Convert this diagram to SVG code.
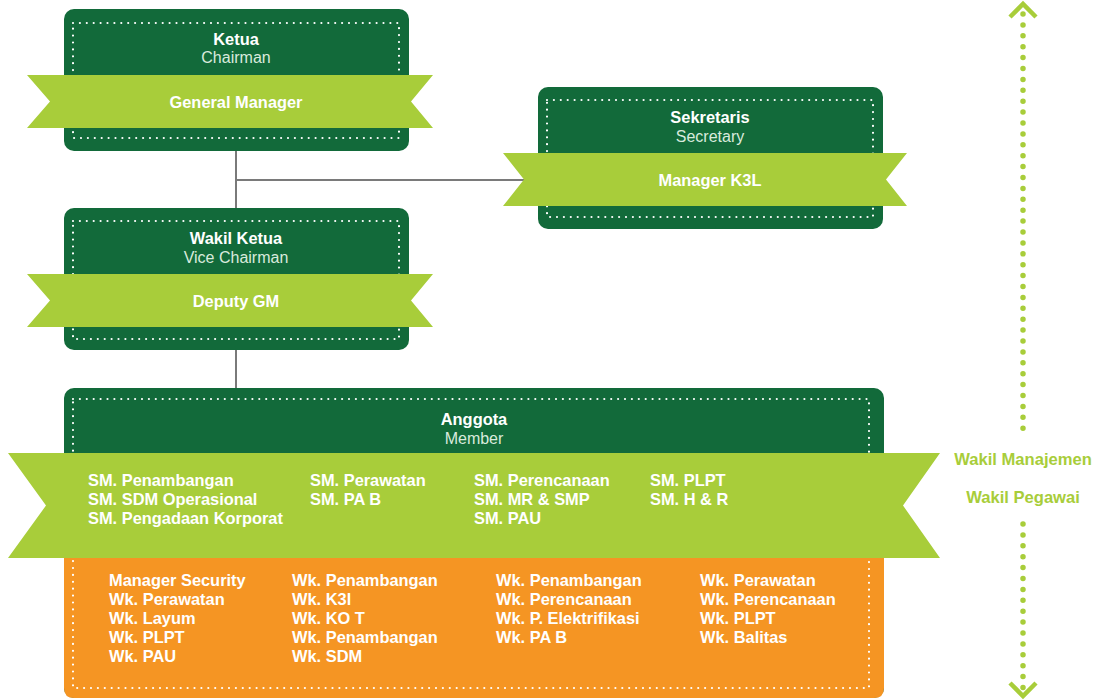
<svg xmlns="http://www.w3.org/2000/svg" width="1102" height="700" viewBox="0 0 1102 700">
<defs>
<style>
.box{fill:#126a3a}
.rib{fill:#a8cd3a}
.dots{fill:none;stroke:#ffffff;stroke-width:2.2;stroke-linecap:round;stroke-dasharray:0 6.9}
.t{font-family:"Liberation Sans",Arial,sans-serif;font-size:16.4px;font-weight:700;fill:#ffffff}
.s{font-family:"Liberation Sans",Arial,sans-serif;font-size:16px;font-weight:400;fill:#d9eadd}
.c{text-anchor:middle}
.conn{stroke:#7a7a7a;stroke-width:2;fill:none}
.lime{font-family:"Liberation Sans",Arial,sans-serif;font-size:16.6px;font-weight:700;fill:#a8cd3a;text-anchor:middle}
.vd{stroke:#a8cd3a;stroke-width:5.5;stroke-linecap:round;stroke-dasharray:0 10.9;fill:none}
.chev{stroke:#a8cd3a;stroke-width:4.5;fill:none;stroke-linejoin:miter;stroke-linecap:butt}
</style>
</defs>
<g id="connectors">
<line class="conn" x1="236" y1="150" x2="236" y2="210"/>
<line class="conn" x1="236" y1="180" x2="526" y2="180"/>
<line class="conn" x1="236" y1="349" x2="236" y2="390"/>
</g>
<g id="ketua">
<rect class="box" x="64" y="9" width="345" height="142" rx="10"/>
<rect class="dots" x="73" y="23" width="326" height="115"/>
<text class="t c" x="236" y="45">Ketua</text>
<text class="s c" x="236" y="63">Chairman</text>
<polygon class="rib" points="27,75 433,75 411,101.5 433,128 27,128 50,101.5"/>
<text class="t c" x="236" y="108">General Manager</text>
</g>
<g id="sekretaris">
<rect class="box" x="538" y="87" width="345" height="142" rx="10"/>
<rect class="dots" x="547" y="100" width="326" height="117"/>
<text class="t c" x="710" y="123">Sekretaris</text>
<text class="s c" x="710" y="142">Secretary</text>
<polygon class="rib" points="503,153 907,153 886,179.5 907,206 503,206 524,179.5"/>
<text class="t c" x="710" y="186">Manager K3L</text>
</g>
<g id="wakil-ketua">
<rect class="box" x="64" y="208" width="345" height="142" rx="10"/>
<rect class="dots" x="73" y="221" width="326" height="118"/>
<text class="t c" x="236" y="244">Wakil Ketua</text>
<text class="s c" x="236" y="263">Vice Chairman</text>
<polygon class="rib" points="27,274 433,274 411,300.5 433,327 27,327 50,300.5"/>
<text class="t c" x="236" y="307">Deputy GM</text>
</g>
<g id="anggota">
<rect class="box" x="64" y="388" width="820" height="310" rx="10"/>
<path d="M64,540 H884 V688 Q884,698 874,698 H74 Q64,698 64,688 Z" fill="#f59523"/>
<rect class="dots" x="73" y="399" width="796" height="289"/>
<text class="t c" x="474" y="425">Anggota</text>
<text class="s c" x="474" y="444">Member</text>
<polygon class="rib" points="8,453 940,453 903,505.5 940,558 8,558 46,505.5"/>
<text class="t" x="88" y="486">SM. Penambangan</text>
<text class="t" x="88" y="505">SM. SDM Operasional</text>
<text class="t" x="88" y="524">SM. Pengadaan Korporat</text>
<text class="t" x="310" y="486">SM. Perawatan</text>
<text class="t" x="310" y="505">SM. PA B</text>
<text class="t" x="474" y="486">SM. Perencanaan</text>
<text class="t" x="474" y="505">SM. MR &amp; SMP</text>
<text class="t" x="474" y="524">SM. PAU</text>
<text class="t" x="650" y="486">SM. PLPT</text>
<text class="t" x="650" y="505">SM. H &amp; R</text>
<text class="t" x="109" y="586">Manager Security</text>
<text class="t" x="109" y="605">Wk. Perawatan</text>
<text class="t" x="109" y="624">Wk. Layum</text>
<text class="t" x="109" y="643">Wk. PLPT</text>
<text class="t" x="109" y="662">Wk. PAU</text>
<text class="t" x="292" y="586">Wk. Penambangan</text>
<text class="t" x="292" y="605">Wk. K3l</text>
<text class="t" x="292" y="624">Wk. KO T</text>
<text class="t" x="292" y="643">Wk. Penambangan</text>
<text class="t" x="292" y="662">Wk. SDM</text>
<text class="t" x="496" y="586">Wk. Penambangan</text>
<text class="t" x="496" y="605">Wk. Perencanaan</text>
<text class="t" x="496" y="624">Wk. P. Elektrifikasi</text>
<text class="t" x="496" y="643">Wk. PA B</text>
<text class="t" x="700" y="586">Wk. Perawatan</text>
<text class="t" x="700" y="605">Wk. Perencanaan</text>
<text class="t" x="700" y="624">Wk. PLPT</text>
<text class="t" x="700" y="643">Wk. Balitas</text>
</g>
<g id="wakil-arrow">
<polyline class="chev" points="1010,17 1023,4 1036,17"/>
<line class="vd" x1="1023" y1="14" x2="1023" y2="431"/>
<text class="lime" x="1023" y="465">Wakil Manajemen</text>
<text class="lime" x="1023" y="503">Wakil Pegawai</text>
<line class="vd" x1="1023" y1="524" x2="1023" y2="688"/>
<polyline class="chev" points="1010,683 1023,696 1036,683"/>
</g>
</svg>
